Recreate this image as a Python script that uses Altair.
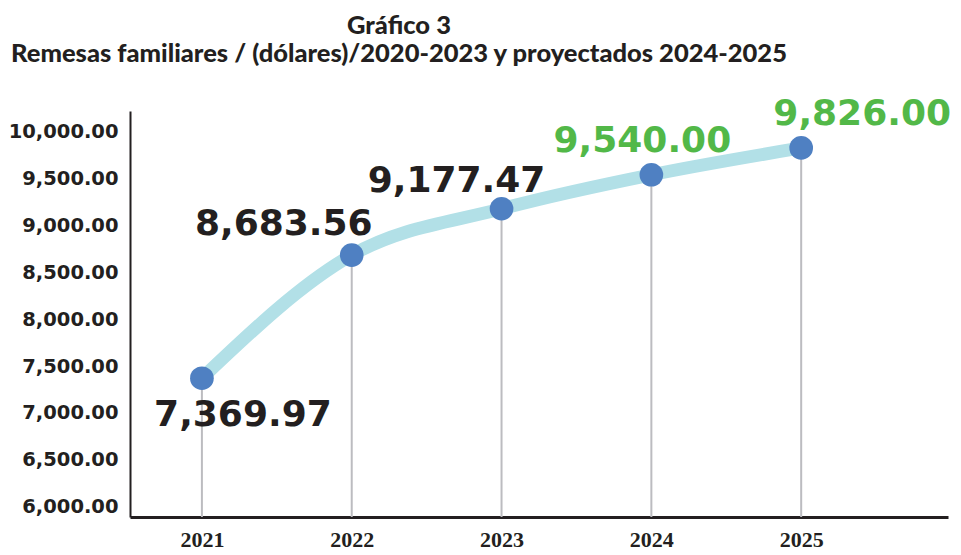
import altair as alt
import pandas as pd

years = [2021, 2022, 2023, 2024, 2025]
values = [7369.97, 8683.56, 9177.47, 9540.00, 9826.00]
labels = ["7,369.97", "8,683.56", "9,177.47", "9,540.00", "9,826.00"]
kinds = ["real", "real", "real", "proyectado", "proyectado"]
y_ticks = [6000, 6500, 7000, 7500, 8000, 8500, 9000, 9500, 10000]

df = pd.DataFrame({"year": years, "value": values, "label": labels, "kind": kinds})

DARK = "#231f20"
GREEN = "#52b848"
Y_MIN = 5890

x = alt.X("year:Q", scale=alt.Scale(domain=[2020.52, 2025.98], nice=False, zero=False),
          axis=alt.Axis(values=years, format="d", title=None, ticks=False, grid=False,
                        labelFont="Liberation Sans Narrow", labelFontWeight="bold",
                        labelFontSize=22, labelColor=DARK, labelPadding=12,
                        domainColor=DARK, domainWidth=3, labelFlush=False))
y = alt.Y("value:Q", scale=alt.Scale(domain=[Y_MIN, 10220], nice=False, zero=False),
          axis=alt.Axis(values=y_ticks, format=",.2f", title=None, ticks=False, grid=False,
                        labelFont="DejaVu Sans", labelFontWeight="bold", labelFontSize=19.5,
                        labelColor=DARK, labelPadding=12, domainColor=DARK, domainWidth=2,
                        minExtent=122, maxExtent=122))

base = alt.Chart(df)

rules = base.mark_rule(color="#bcbcc0", strokeWidth=2).encode(
    x=x, y=y, y2=alt.datum(Y_MIN))

line = base.mark_line(color="#b2e0e7", strokeWidth=13, interpolate="monotone",
                      strokeCap="round").encode(x=x, y=y)

points = base.mark_point(filled=True, color="#4f80c2", opacity=1, size=560,
                         shape="circle").encode(x=x, y=y)

offsets = {2021: (41, 48), 2022: (-68, -20), 2023: (-45, -17), 2024: (-9, -23), 2025: (61, -23)}
text_layers = []
for yr, kd in zip(years, kinds):
    dx, dy = offsets[yr]
    text_layers.append(
        base.transform_filter(alt.datum.year == yr).mark_text(
            font="DejaVu Sans", fontWeight="bold", fontSize=36, baseline="alphabetic",
            align="center", dx=dx, dy=dy, color=DARK if kd == "real" else GREEN
        ).encode(x=x, y=y, text="label:N")
    )

chart = alt.layer(rules, line, points, *text_layers).properties(
    width=818, height=406,
    padding={"left": 0, "top": 5, "right": 0, "bottom": 0},
    title=alt.TitleParams(
        text="Gráfico 3",
        subtitle="Remesas familiares / (dólares)/2020-2023 y proyectados 2024-2025",
        font="Lato", fontWeight=900, fontSize=25.5, color=DARK,
        subtitleFont="Lato", subtitleFontWeight=900, subtitleFontSize=25.5,
        subtitleColor=DARK, subtitlePadding=3, anchor="middle", frame="group",
        dx=-140, offset=28,
    ),
).configure_view(stroke=None)

chart.save("out.html", embed_options={"renderer": "svg", "actions": False})
